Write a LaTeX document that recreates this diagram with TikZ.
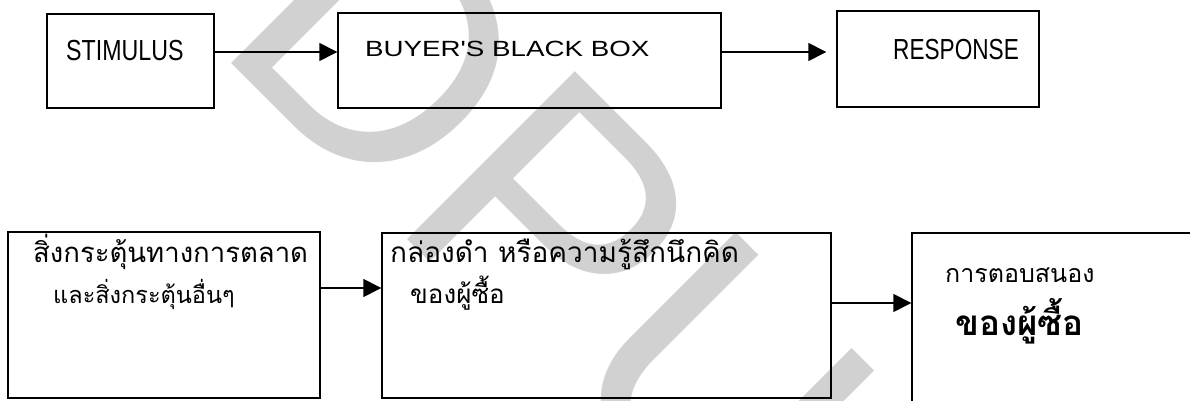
\documentclass[tikz,border=0pt]{standalone}
\usepackage{fontspec}
\setmainfont{Liberation Sans}
\newfontfamily\thaifont[Script=Thai]{Loma}
\usetikzlibrary{arrows.meta}
\tikzstyle{box}=[rectangle,draw,line width=1.4pt,inner sep=0]
\tikzstyle{txt}=[anchor=base west,inner sep=0]
\tikzstyle{thai}=[txt,font=\thaifont\fontsize{27}{32}\selectfont]
\tikzstyle{arrow}=[line width=1.4pt,-{Triangle[length=18pt,width=18pt]}]
\tikzstyle{dpu}=[anchor=base west,inner sep=0,rotate=-45,text=black!18,font=\fontsize{345}{400}\selectfont]
\begin{document}
\begin{tikzpicture}[x=1pt,y=-1pt]
\useasboundingbox (0,0) rectangle (1190,401);
\clip (0,0) rectangle (1190,401);
\fill[white] (0,0) rectangle (1190,401);
\node[dpu] (wm) at (211,43) {DPU};

% top row
\node[box,minimum width=167,minimum height=94] (stim) at (130.5,61) {};
\node[box,minimum width=383,minimum height=95] (bbox) at (529.5,60.5) {};
\node[box,minimum width=202,minimum height=96] (resp) at (938,59) {};
\node[txt,font=\fontsize{29}{32}\selectfont] (stimtxt) at (66,61) {\scalebox{0.8}[1]{STIMULUS}};
\node[txt,font=\fontsize{22}{26}\selectfont] (bboxtxt) at (365,57) {\scalebox{1.26}[1]{BUYER\textquotesingle S BLACK BOX}};
\node[txt,font=\fontsize{29}{32}\selectfont] (resptxt) at (893,60) {\scalebox{0.78}[1]{RESPONSE}};
\draw[arrow] ([yshift=9pt]stim.east) -- ([yshift=9pt]stim.east -| bbox.west);
\draw[arrow,shorten >=10pt] ([yshift=8.5pt]bbox.east) -- ([yshift=8.5pt]bbox.east -| resp.west);

% bottom row
\node[box,minimum width=312,minimum height=166] (mkt) at (164,315) {};
\node[box,minimum width=449,minimum height=165] (think) at (606.5,315.5) {};
\node[box,minimum width=300,minimum height=197] (react) at (1062,331.5) {};
\node[thai,font=\thaifont\fontsize{27.5}{32}\selectfont] (mkta) at (33,262) {สิ่งกระตุ้นทางการตลาด};
\node[thai,font=\thaifont\fontsize{23.5}{28}\selectfont] (mktb) at (53,303) {และสิ่งกระตุ้นอื่นๆ};
\node[thai,font=\thaifont\fontsize{28}{34}\selectfont] (thinka) at (390,262) {กล่องดำ หรือความรู้สึกนึกคิด};
\node[thai,font=\thaifont\fontsize{26}{30}\selectfont] (thinkb) at (410,303) {ของผู้ซื้อ};
\node[thai,font=\thaifont\fontsize{25}{30}\selectfont] (reacta) at (945,282) {การตอบสนอง};
\node[thai,font=\thaifont\bfseries\fontsize{35}{40}\selectfont] (reactb) at (955,335) {ของผู้ซื้อ};
\draw[arrow] ([yshift=27pt]mkt.east) -- ([yshift=27pt]mkt.east -| think.west);
\draw[arrow] ([yshift=12.5pt]think.east) -- ([yshift=12.5pt]think.east -| react.west);
\end{tikzpicture}
\end{document}
